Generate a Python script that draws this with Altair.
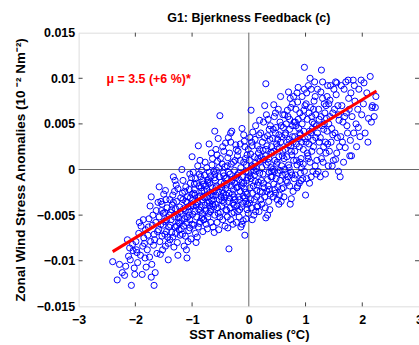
import altair as alt
import pandas as pd

# Scatter samples: (SST anomaly in 1/100 °C, wind stress anomaly in 1e-4 units)
samples = [
    (-240,-101),(-232,-121),(-223,-113),(-219,-116),(-228,-104),
    (-214,-77),(-209,-99),(-207,-127),(-205,-82),(-202,-108),(-212,-95),(-204,-89),(-217,-106),(-201,-115),(-210,-86),
    (-198,-88),(-193,-58),(-191,-94),(-188,-115),(-196,-102),(-185,-75),(-182,-66),(-199,-79),(-187,-84),(-194,-70),
    (-183,-97),(-190,-62),(-181,-107),(-197,-91),(-186,-55),(-184,-81),
    (-178,-72),(-172,-30),(-172,-118),(-167,-127),(-165,-113),(-175,-96),(-176,-54),(-170,-61),(-163,-45),(-168,-83),
    (-161,-68),(-179,-88),(-174,-40),(-166,-77),(-162,-92),(-177,-63),(-169,-50),(-164,-58),(-171,-104),(-173,-79),
    (-160,-36),(-167,-71),
    (-156,-93),(-158,-19),(-142,-99),(-155,-60),(-151,-48),(-148,-71),(-145,-55),(-159,-66),(-153,-38),(-147,-84),
    (-144,-42),(-150,-27),(-157,-79),(-141,-63),(-146,-33),(-152,-88),(-149,-57),(-143,-74),(-154,-45),(-140,-50),
    (-158,-52),(-145,-68),(-151,-61),(-147,-23),(-155,-35),(-142,-81),(-153,-73),(-148,-47),
    (-133,-8),(-125,-94),(-138,-61),(-136,-44),(-131,-52),(-129,-70),(-127,-35),(-124,-58),(-122,-41),(-139,-77),
    (-134,-28),(-130,-63),(-126,-49),(-121,-72),(-137,-55),(-132,-85),(-128,-17),(-123,-66),(-135,-39),(-120,-31),
    (-138,-47),(-131,-24),(-126,-80),(-124,-53),(-129,-43),(-136,-69),(-122,-59),(-133,-36),(-127,-62),(-121,-46),
    (-139,-33),(-125,-21),(-134,-74),(-130,-12),
    (-118,0),(-109,-97),(-115,-62),(-112,-45),(-108,-30),(-104,-55),(-101,-38),(-117,-71),(-113,-24),(-106,-67),
    (-103,-15),(-119,-48),(-110,-58),(-107,-41),(-102,-76),(-116,-33),(-114,-84),(-111,-19),(-105,-50),(-100,-27),
    (-118,-56),(-109,-36),(-104,-64),(-101,-9),(-115,-43),(-112,-73),(-108,-52),(-103,-31),(-117,-26),(-106,-47),
    (-110,-88),(-102,-40),(-119,-65),(-113,-54),(-105,-22),(-100,-60),(-116,-12),(-111,-35),(-107,-79),(-104,-5),
    (-100,14),(-93,-80),(-91,-74),(-89,26),(-98,-40),(-95,-28),(-92,-52),(-88,-18),(-85,-45),(-82,-33),
    (-97,-61),(-94,-10),(-90,-37),(-86,-57),(-83,-24),(-81,-68),(-99,-49),(-96,-22),(-87,-5),(-84,-41),
    (-80,-30),(-92,-15),(-89,-63),(-95,-46),(-98,-3),(-86,-29),(-83,-53),(-91,-35),(-88,-44),(-81,-12),
    (-97,-26),(-94,-70),(-85,-8),(-82,-48),(-99,-34),(-90,4),(-87,-59),(-84,-20),(-93,-39),(-80,-55),
    (-96,-16),(-89,-31),(-86,10),(-83,-1),
    (-70,28),(-61,-69),(-79,-23),(-76,-45),(-73,-12),(-70,-36),(-67,-58),(-64,-20),(-62,-41),(-78,-6),
    (-75,-30),(-72,-52),(-69,-15),(-66,-27),(-63,-63),(-60,-9),(-77,-39),(-74,2),(-71,-48),(-68,-25),
    (-65,5),(-62,-33),(-79,-55),(-76,-18),(-73,-37),(-70,-3),(-67,-44),(-64,12),(-61,-24),(-78,-31),
    (-75,-60),(-72,-14),(-69,-40),(-66,18),(-63,-29),(-60,-50),(-77,8),(-74,-22),(-71,-11),(-68,-46),
    (-65,-34),(-62,-2),(-80,-16),(-73,-65),(-67,-7),(-64,-38),
    (-51,59),(-60,42),(-54,34),(-58,-20),(-55,-42),(-52,-8),(-49,-30),(-46,-55),(-43,-15),(-41,29),
    (-57,-1),(-53,-25),(-50,-47),(-47,6),(-44,-36),(-42,-62),(-59,-12),(-56,16),(-52,-33),(-48,-19),
    (-45,-4),(-40,-44),(-58,-28),(-55,9),(-51,-52),(-47,-23),(-44,20),(-41,-10),(-59,-38),(-56,-58),
    (-53,2),(-49,-14),(-46,25),(-43,-31),(-60,-5),(-54,-48),(-50,12),(-48,-40),(-45,-26),(-42,3),
    (-57,-18),(-53,-66),(-47,-34),(-44,-7),(-58,22),(-41,-21),
    (-35,-87),(-37,-64),(-30,42),(-32,40),(-39,-17),(-36,-35),(-33,-5),(-30,-48),(-27,-22),(-24,10),
    (-21,-40),(-38,4),(-35,-26),(-32,-55),(-29,-11),(-26,-30),(-23,27),(-20,-6),(-39,-45),(-34,18),
    (-31,-18),(-28,-37),(-25,-1),(-22,-58),(-40,-28),(-37,13),(-33,-42),(-30,-13),(-27,8),(-24,-33),
    (-21,-20),(-38,-52),(-36,-3),(-32,30),(-29,-27),(-26,-47),(-23,-9),(-20,15),(-39,-9),(-34,-31),
    (-31,6),(-28,-60),(-25,-15),(-22,22),(-36,35),(-26,-39),
    (-7,-72),(-10,-56),(-14,-63),(-5,-35),(-12,45),(-15,-24),(-18,-4),(-13,-41),(-9,-15),(-6,12),
    (-3,-27),(-1,-48),(-19,20),(-16,-33),(-11,-8),(-8,-21),(-4,5),(-2,-38),(-17,-52),(-14,2),
    (-10,-29),(-7,25),(-4,-12),(-1,-3),(-20,-19),(-16,-44),(-12,-14),(-9,8),(-5,-54),(-3,16),
    (-18,-30),(-15,10),(-11,-37),(-8,31),(-6,-25),(-2,-9),(-19,-46),(-13,-18),(-9,38),(-5,-2),
    (-1,22),(-17,-11),(-12,-60),(-7,-31),(-3,-44),(-15,28),
    (4,65),(2,-20),(5,-42),(8,3),(11,-13),(14,-30),(17,18),(19,-4),(1,10),(3,-33),
    (6,26),(9,-50),(12,7),(15,-17),(18,38),(20,-24),(2,-7),(5,30),(7,-26),(10,14),
    (13,-2),(16,-40),(19,22),(1,-37),(4,-10),(7,41),(10,-33),(12,48),(14,1),(17,-14),
    (20,9),(3,17),(6,-55),(9,-1),(11,33),(14,-23),(16,12),(18,-46),(12,-46),(14,-41),
    (8,-18),(5,4),(19,54),(15,26),(2,35),(10,-6),
    (30,94),(30,-53),(33,-50),(35,-35),(22,-12),(25,21),(28,-30),(31,5),(34,-18),(37,33),
    (39,-8),(21,40),(24,-25),(27,11),(29,-42),(32,26),(36,-3),(38,-27),(23,2),(26,52),
    (29,15),(33,-11),(36,44),(39,19),(21,-33),(24,30),(27,-20),(31,60),(34,8),(37,-44),
    (40,25),(22,14),(25,-5),(28,35),(32,-24),(35,12),(38,48),(23,-38),(26,-15),(30,22),
    (33,37),(36,-22),(40,-2),(28,70),(34,55),(39,2),
    (56,80),(58,-21),(41,-8),(44,20),(47,-26),(50,8),(53,38),(55,-12),(59,15),(42,34),
    (45,-2),(48,46),(51,-19),(54,24),(57,-35),(60,60),(43,-30),(46,10),(49,28),(52,-4),
    (55,52),(58,4),(41,18),(44,-16),(47,40),(50,-33),(53,14),(56,30),(59,-6),(42,0),
    (45,58),(48,-10),(51,33),(54,-28),(57,48),(60,20),(43,44),(46,-22),(49,6),(52,66),
    (55,-1),(58,36),(44,71),(50,25),(53,-38),(47,62),
    (75,-32),(73,-38),(62,12),(65,40),(68,-14),(70,27),(72,55),(74,-3),(77,36),(79,10),
    (61,-20),(64,22),(66,50),(69,-8),(71,33),(74,68),(76,16),(78,-24),(63,60),(65,-5),
    (67,30),(70,5),(72,44),(75,20),(77,72),(80,-10),(62,-30),(64,38),(67,14),(69,58),
    (72,-18),(74,26),(77,48),(79,80),(61,46),(66,-12),(68,65),(71,2),(73,78),(76,-6),
    (78,30),(80,52),(70,85),(63,0),
    (86,-18),(100,-28),(81,20),(83,48),(85,5),(88,34),(90,62),(92,12),(95,-10),(97,42),
    (99,70),(82,-6),(84,28),(87,55),(89,-15),(91,38),(94,80),(96,22),(98,-2),(83,66),
    (85,-20),(88,45),(90,8),(93,30),(95,58),(98,88),(81,36),(84,10),(86,74),(89,25),
    (91,-4),(94,50),(96,6),(99,34),(87,90),(92,-12),(97,65),(82,52),(93,2),(98,112),
    (85,84),(90,40),
    (116,96),(119,-5),(101,30),(103,55),(105,12),(107,42),(109,68),(111,20),(113,-2),(115,50),
    (117,80),(102,-10),(104,36),(106,62),(108,8),(110,88),(112,45),(114,25),(118,60),(120,10),
    (101,72),(103,18),(105,92),(107,-15),(109,40),(111,58),(113,32),(115,75),(117,4),(119,48),
    (102,84),(106,28),(110,-8),(114,66),(118,35),(104,15),(108,100),(112,52),
    (128,109),(135,-5),(121,40),(123,66),(125,20),(127,85),(129,48),(131,8),(133,72),(135,30),
    (137,56),(139,92),(122,-2),(124,55),(126,35),(128,12),(130,78),(132,44),(134,62),(136,18),
    (138,80),(140,4),(121,88),(124,30),(127,58),(130,96),(133,50),(136,70),(139,28),(126,-8),
    (132,25),(138,42),
    (147,4),(153,11),(153,96),(141,50),(143,76),(145,30),(148,62),(150,88),(152,40),(155,18),
    (157,70),(159,54),(142,20),(144,92),(146,45),(149,10),(151,66),(154,82),(156,35),(158,-2),
    (160,25),(143,58),(148,38),(155,95),(141,72),(158,60),
    (161,-8),(167,8),(175,98),(162,36),(164,70),(166,52),(168,88),(170,24),(172,62),(174,40),
    (176,78),(178,15),(163,92),(165,30),(169,58),(171,96),(173,48),(177,66),(179,32),(180,84),
    (181,15),(184,98),(190,25),(198,98),(182,58),(185,40),(187,75),(189,50),(192,66),(194,88),
    (196,36),(199,60),(186,92),(193,46),
    (205,40),(202,72),(208,84),(211,56),(214,102),(216,52),(218,70),(203,95),(210,30),
    (223,68),(217,68),(224,80),(221,58),
]

sst_anomaly = [a / 100 for a, b in samples]
stress_anomaly = [b / 10000 for a, b in samples]

# Fitted line end points
fit_x = [-2.40, 2.25]
fit_y = [-0.0090, 0.0086]

x_ticks = [-3, -2, -1, 0, 1, 2, 3]
y_ticks = [-0.015, -0.01, -0.005, 0, 0.005, 0.01, 0.015]
inner_x_ticks = [-2, -1, 1, 2]
inner_y_ticks = [-0.01, -0.005, 0.005, 0.01]

annotation = ["μ = 3.5 (+6 %)*"]
annotation_x = [-2.51]
annotation_y = [0.0099]

W, H = 342, 275
FONT = "Liberation Sans"

pts = pd.DataFrame({"x": sst_anomaly, "y": stress_anomaly})
fit = pd.DataFrame({"x": fit_x, "y": fit_y})

xs = alt.Scale(domain=[-3, 3], nice=False, zero=False)
ys = alt.Scale(domain=[-0.015, 0.015], nice=False, zero=False)

x_axis = alt.Axis(values=x_ticks, format="d", grid=False, domain=False, ticks=False,
                  labelFont=FONT, labelFontSize=12.5, labelFontWeight="bold", labelColor="black",
                  labelPadding=7, labelFlush=False,
                  title="SST Anomalies (°C)", titleFont=FONT, titleFontSize=13,
                  titleFontWeight="bold", titleColor="black", titlePadding=3)
y_axis = alt.Axis(values=y_ticks, format=".2~g", grid=False, domain=False, ticks=False,
                  labelFont=FONT, labelFontSize=12.5, labelFontWeight="bold", labelColor="black",
                  labelPadding=4, labelFlush=False,
                  title="Zonal Wind Stress Anomalies (10 ⁻² Nm⁻²)", titleFont=FONT,
                  titleFontSize=13.5, titleFontWeight="bold", titleColor="black", titlePadding=9)

scatter = alt.Chart(pts).mark_point(shape="circle", filled=False, color="#0000ff",
                                    size=38, strokeWidth=1, opacity=1).encode(
    x=alt.X("x:Q", scale=xs, axis=x_axis),
    y=alt.Y("y:Q", scale=ys, axis=y_axis),
)

zero_v = alt.Chart(pd.DataFrame({"x": [0]})).mark_rule(color="#666666", strokeWidth=1).encode(
    x=alt.X("x:Q", scale=xs))
zero_h = alt.Chart(pd.DataFrame({"y": [0]})).mark_rule(color="#666666", strokeWidth=1).encode(
    y=alt.Y("y:Q", scale=ys))

tick_color = "#444444"
xt = pd.DataFrame({"x": inner_x_ticks})
yt = pd.DataFrame({"y": inner_y_ticks})
ticks_bottom = alt.Chart(xt).mark_rule(color=tick_color).encode(
    x=alt.X("x:Q", scale=xs), y=alt.value(H), y2=alt.value(H - 4))
ticks_top = alt.Chart(xt).mark_rule(color=tick_color).encode(
    x=alt.X("x:Q", scale=xs), y=alt.value(0), y2=alt.value(4))
ticks_left = alt.Chart(yt).mark_rule(color=tick_color).encode(
    y=alt.Y("y:Q", scale=ys), x=alt.value(0), x2=alt.value(4))
ticks_right = alt.Chart(yt).mark_rule(color=tick_color).encode(
    y=alt.Y("y:Q", scale=ys), x=alt.value(W), x2=alt.value(W - 4))

fit_line = alt.Chart(fit).mark_line(color="#ff0000", strokeWidth=3).encode(
    x=alt.X("x:Q", scale=xs), y=alt.Y("y:Q", scale=ys))

label = alt.Chart(pd.DataFrame({"t": annotation, "x": annotation_x, "y": annotation_y})).mark_text(
    align="left", baseline="middle", color="#ff0000", font=FONT, fontSize=12.5, fontWeight="bold"
).encode(x=alt.X("x:Q", scale=xs), y=alt.Y("y:Q", scale=ys), text="t:N")

chart = alt.layer(
    zero_v, zero_h, scatter, ticks_bottom, ticks_top, ticks_left, ticks_right, fit_line, label
).properties(
    width=W, height=H,
    title=alt.TitleParams("G1: Bjerkness Feedback (c)", font=FONT, fontSize=12.5,
                          fontWeight="bold", color="black", anchor="middle", offset=2),
    autosize=alt.AutoSizeParams(type="none"),
    padding={"left": 79, "top": 32, "right": 0, "bottom": 38},
).configure_view(stroke="#444444", strokeWidth=1).configure(background="white")

chart.save("out.html", embed_options={"renderer": "svg", "actions": False})
